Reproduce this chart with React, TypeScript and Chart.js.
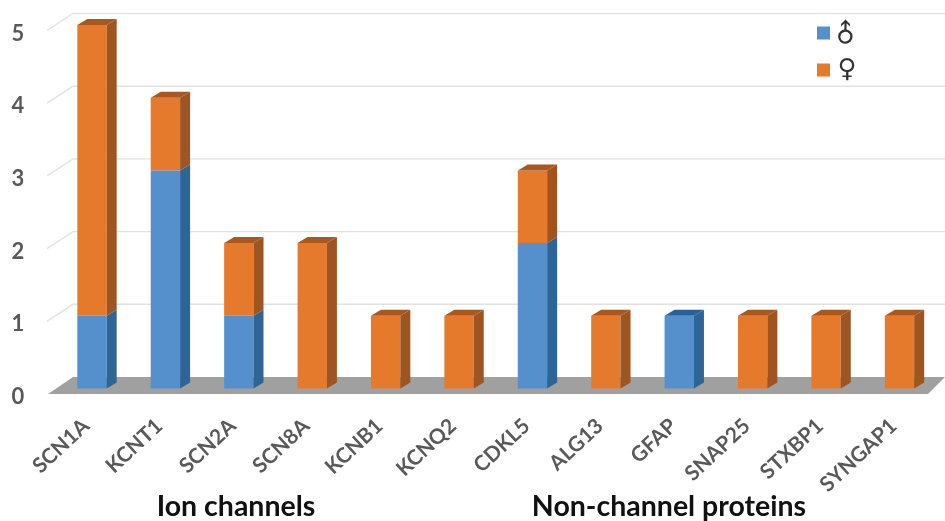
import React, { useEffect, useRef } from "react";
import { Chart, registerables } from "chart.js";

Chart.register(...registerables);

const genes = ["SCN1A", "KCNT1", "SCN2A", "SCN8A", "KCNB1", "KCNQ2", "CDKL5", "ALG13", "GFAP", "SNAP25", "STXBP1", "SYNGAP1"];
const maleCounts = [1, 3, 1, 0, 0, 0, 2, 0, 1, 0, 0, 0];
const femaleCounts = [4, 1, 1, 2, 1, 1, 1, 1, 0, 1, 1, 1];
const groupTitles = [
  { text: "Ion channels", x: 236 },
  { text: "Non-channel proteins", x: 669 },
];

const BLUE = { front: "#5590CC", side: "#2F6496", top: "#28609A" };
const ORANGE = { front: "#E57A2D", side: "#9E5521", top: "#A8591F" };
const faces = [BLUE, ORANGE];

const DEPTH_X = 10;
const DEPTH_Y = 6;
const PLOT_TOP = 25;
const PLOT_BOTTOM = 388.5;

// Pins the value axis to the front plane of the box.
const plotFramePlugin = {
  id: "plotFrame",
  afterLayout(chart: any) {
    const y = chart.scales.y;
    y.top = PLOT_TOP;
    y.bottom = PLOT_BOTTOM;
    y.height = PLOT_BOTTOM - PLOT_TOP;
    y.configure();
    chart.chartArea.top = PLOT_TOP;
    chart.chartArea.bottom = PLOT_BOTTOM;
    chart.chartArea.height = PLOT_BOTTOM - PLOT_TOP;
  },
};

// Back wall, side wall and floor of the 3D box, placed from the y scale.
const roomPlugin = {
  id: "room",
  beforeDatasetsDraw(chart: any) {
    const { ctx } = chart;
    const y = chart.scales.y;
    const backY = (v: number) => y.getPixelForValue(v) - 11.5;
    const frontY = (v: number) => y.getPixelForValue(v) + 5.5;
    ctx.save();
    ctx.strokeStyle = "#E2E2E2";
    ctx.lineWidth = 1.4;
    y.ticks.forEach((t: any) => {
      if (t.value === 0) return;
      ctx.beginPath();
      ctx.moveTo(47, frontY(t.value));
      ctx.lineTo(73, backY(t.value));
      ctx.lineTo(945, backY(t.value));
      ctx.stroke();
    });
    ctx.fillStyle = "#A0A0A0";
    ctx.beginPath();
    ctx.moveTo(48, frontY(0));
    ctx.lineTo(73, backY(0));
    ctx.lineTo(945, backY(0));
    ctx.lineTo(928, frontY(0));
    ctx.closePath();
    ctx.fill();
    ctx.restore();
  },
};

// Side and top faces of every stacked segment, extruded from the bar elements.
const extrudePlugin = {
  id: "extrude",
  afterDatasetsDraw(chart: any) {
    const { ctx } = chart;
    const count = chart.data.labels.length;
    ctx.save();
    for (let i = 0; i < count; i++) {
      let topSeg: any = null;
      let topFace = faces[0];
      chart.data.datasets.forEach((ds: any, d: number) => {
        if (!ds.data[i]) return;
        const bar = chart.getDatasetMeta(d).data[i];
        const right = bar.x + bar.width / 2;
        ctx.fillStyle = faces[d].side;
        ctx.beginPath();
        ctx.moveTo(right, bar.base);
        ctx.lineTo(right + DEPTH_X, bar.base - DEPTH_Y);
        ctx.lineTo(right + DEPTH_X, bar.y - DEPTH_Y);
        ctx.lineTo(right, bar.y);
        ctx.closePath();
        ctx.fill();
        topSeg = bar;
        topFace = faces[d];
      });
      if (topSeg) {
        const left = topSeg.x - topSeg.width / 2;
        const right = topSeg.x + topSeg.width / 2;
        ctx.fillStyle = topFace.top;
        ctx.beginPath();
        ctx.moveTo(left, topSeg.y);
        ctx.lineTo(left + DEPTH_X, topSeg.y - DEPTH_Y);
        ctx.lineTo(right + DEPTH_X, topSeg.y - DEPTH_Y);
        ctx.lineTo(right, topSeg.y);
        ctx.closePath();
        ctx.fill();
      }
    }
    ctx.restore();
  },
};

// Group captions under the axis and the symbol key at the upper right.
const annotationPlugin = {
  id: "annotations",
  afterDraw(chart: any) {
    const { ctx } = chart;
    ctx.save();
    ctx.fillStyle = "#111111";
    ctx.font = "700 28.5px Lato";
    ctx.textAlign = "center";
    ctx.textBaseline = "middle";
    groupTitles.forEach((g) => ctx.fillText(g.text, g.x, 507));

    chart.data.datasets.forEach((ds: any, d: number) => {
      const cy = d === 0 ? 33 : 70;
      ctx.fillStyle = faces[d].front;
      ctx.fillRect(817, cy - 6.5, 13, 13);
      ctx.fillStyle = "#333333";
      ctx.font = "26px 'DejaVu Sans'";
      ctx.save();
      ctx.translate(847, d === 0 ? 35 : 70);
      if (d === 0) ctx.rotate(-Math.PI / 4);
      ctx.fillText(ds.label, 0, 0);
      ctx.restore();
    });
    ctx.restore();
  },
};

export default function App() {
  const ref = useRef<HTMLCanvasElement>(null);

  useEffect(() => {
    const chart = new Chart(ref.current as HTMLCanvasElement, {
      type: "bar",
      data: {
        labels: genes,
        datasets: [
          { label: "♂", data: maleCounts, backgroundColor: BLUE.front },
          { label: "♀", data: femaleCounts, backgroundColor: ORANGE.front },
        ],
      },
      plugins: [plotFramePlugin, roomPlugin, extrudePlugin, annotationPlugin],
      options: {
        animation: false,
        responsive: false,
        layout: { autoPadding: false, padding: { top: 25, right: 8.8, left: 0, bottom: 0 } },
        datasets: { bar: { barPercentage: 0.4, categoryPercentage: 1, clip: false } },
        plugins: { legend: { display: false }, tooltip: { enabled: false } },
        scales: {
          x: {
            stacked: true,
            border: { display: false },
            grid: { display: false, drawTicks: false },
            afterFit(s: any) {
              s.height = 521 - PLOT_BOTTOM;
            },
            ticks: {
              autoSkip: false,
              minRotation: 43,
              maxRotation: 43,
              padding: 25,
              labelOffset: -6,
              color: "#595959",
              font: { family: "Lato", size: 21, weight: 700 },
            },
          },
          y: {
            stacked: true,
            min: 0,
            max: 5,
            border: { display: false },
            grid: { display: false, drawTicks: false },
            afterFit(s: any) {
              s.width = 55.3;
            },
            ticks: {
              stepSize: 1,
              padding: 31,
              labelOffset: 8.5,
              color: "#595959",
              font: { family: "Lato", size: 22, weight: 700 },
            },
          },
        },
      },
    } as any);
    return () => chart.destroy();
  }, []);

  return (
    <div style={{ position: "fixed", left: 0, top: 0, background: "#ffffff" }}>
      <canvas ref={ref} width={945} height={521} style={{ display: "block" }} />
    </div>
  );
}
